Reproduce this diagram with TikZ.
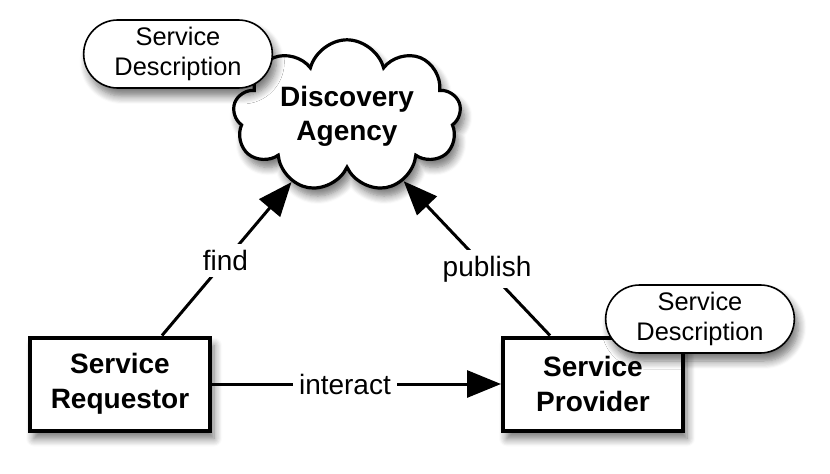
\documentclass[tikz,border=0pt]{standalone}
\usepackage{fontspec}
\setmainfont{Liberation Sans}
\usetikzlibrary{shapes.symbols,shapes.misc,shadows.blur,arrows.meta}
\begin{document}
\begin{tikzpicture}[x=0.5pt,y=0.5pt,
    shade/.style={blur shadow={shadow xshift=2pt,shadow yshift=-4pt,shadow blur radius=4pt,shadow blur steps=8,shadow opacity=55}},
    actor/.style={draw,line width=2pt,fill=white,minimum width=90pt,minimum height=46.5pt,
        align=center,font=\fontsize{14}{17.5}\selectfont\bfseries,shade},
    agency/.style={cloud,cloud puffs=9,cloud ignores aspect,draw,line width=1.6pt,fill=white,
        minimum width=114pt,minimum height=71pt,align=center,
        font=\fontsize{14}{17}\selectfont\bfseries,shade},
    descr/.style={rounded rectangle,draw,line width=0.8pt,fill=white,minimum width=101pt,
        minimum height=34pt,align=center,font=\fontsize{12.7}{15}\selectfont,shade},
    link/.style={line width=1.5pt},
    lbl/.style={fill=white,inner sep=3pt,font=\fontsize{14}{16}\selectfont}]
    \useasboundingbox (0,0) rectangle (830,473);
    % the three parties
    \node [agency] (agency) at (347,357) {Discovery\\Agency};
    \node [actor] (requestor) at (120,89) {Service\\Requestor};
    \node [actor] (provider) at (593,89) {Service\\Provider};
    % descriptions
    \node [descr] (descA) at (178,419) {Service\\Description};
    \node [descr] (descB) at (700,154) {Service\\Description};
    % connectors
    \draw [link,-{Triangle[length=17pt,width=13.5pt]}] ([xshift=21pt]requestor.north) -- (agency.230)
        node [lbl,pos=0.49] {find};
    \draw [link,-{Triangle[length=17pt,width=13.5pt]}] ([xshift=-21.5pt]provider.north) -- (agency.311)
        node [lbl,pos=0.43] {publish};
    \draw [link,-{Triangle[length=17pt,width=13.5pt]}] (requestor.east) -- (provider.west)
        node [lbl,pos=0.46] {interact};
\end{tikzpicture}
\end{document}
